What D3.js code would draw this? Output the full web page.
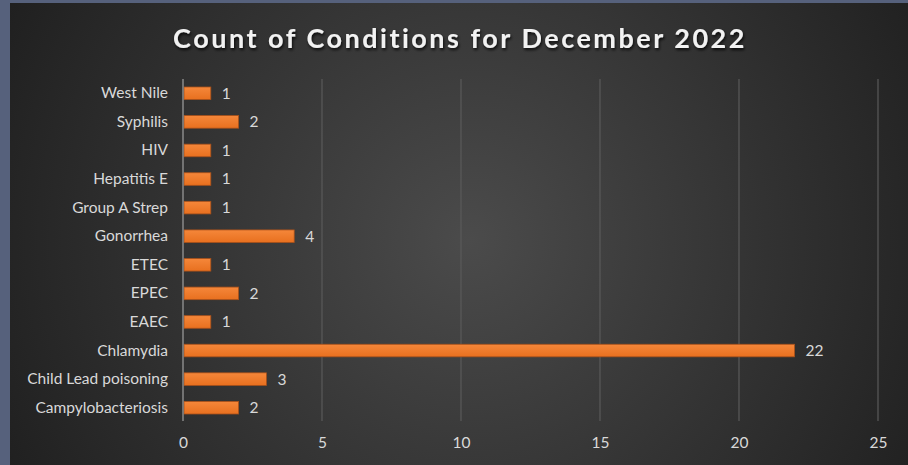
<!DOCTYPE html>
<html><head><meta charset="utf-8">
<script src="https://cdn.jsdelivr.net/npm/d3@7"></script>
<style>
html,body{margin:0;padding:0;background:#56617c;}
svg{display:block;}
</style>
</head><body>
<svg id="chart" width="908" height="465"></svg>
<script>
const categories = ["West Nile","Syphilis","HIV","Hepatitis E","Group A Strep","Gonorrhea","ETEC","EPEC","EAEC","Chlamydia","Child Lead poisoning","Campylobacteriosis"];
const counts = [1,2,1,1,1,4,1,2,1,22,3,2];
const xTicks = [0,5,10,15,20,25];
const title = "Count of Conditions for December 2022";

const W = 908, H = 465;
const svg = d3.select("#chart");
const defs = svg.append("defs");
const rg = defs.append("radialGradient").attr("id","bg")
  .attr("gradientUnits","userSpaceOnUse")
  .attr("cx",470).attr("cy",240).attr("r",540);
rg.append("stop").attr("offset","0").attr("stop-color","#4b4b4b");
rg.append("stop").attr("offset","0.55").attr("stop-color","#323232");
rg.append("stop").attr("offset","1").attr("stop-color","#1e1e1e");

const barGrad = defs.append("linearGradient").attr("id","barg").attr("x1",0).attr("y1",0).attr("x2",0).attr("y2",1);
barGrad.append("stop").attr("offset","0").attr("stop-color","#f5873a");
barGrad.append("stop").attr("offset","1").attr("stop-color","#e8701f");

const sh = defs.append("filter").attr("id","tshadow").attr("x","-10%").attr("y","-30%").attr("width","120%").attr("height","160%");
sh.append("feDropShadow").attr("dx",1).attr("dy",2).attr("stdDeviation",1.5).attr("flood-color","#000").attr("flood-opacity",0.8);

svg.append("rect").attr("x",0).attr("y",0).attr("width",W).attr("height",H).attr("fill","#56617c");
svg.append("rect").attr("x",10).attr("y",3).attr("width",W-10).attr("height",H-3).attr("fill","url(#bg)");

const x = d3.scaleLinear().domain([0,25]).range([183,878]);
const y = d3.scaleBand().domain(categories).range([79,422]).paddingInner(0.56).paddingOuter(0.28);

svg.append("g").selectAll("line").data(xTicks.filter(d=>d>0)).join("line")
  .attr("x1",d=>x(d)).attr("x2",d=>x(d)).attr("y1",79).attr("y2",421)
  .attr("stroke","#5a5a5a").attr("stroke-width",1.2);

svg.append("g").selectAll("rect").data(categories).join("rect")
  .attr("x",x(0)+1).attr("y",d=>y(d))
  .attr("width",(d,i)=>x(counts[i])-x(0)-1).attr("height",y.bandwidth())
  .attr("fill","url(#barg)").attr("stroke","#a9501a").attr("stroke-width",0.8);

svg.append("line").attr("x1",x(0)).attr("x2",x(0)).attr("y1",79).attr("y2",421)
  .attr("stroke","#8a8a8a").attr("stroke-width",1.5);

const font = "Lato, 'Open Sans', sans-serif";
const fs = "15.5px";

const yAxis = d3.axisLeft(y).tickSize(0).tickPadding(15);
const gy = svg.append("g").attr("transform",`translate(${x(0)},0)`).call(yAxis);
gy.select(".domain").remove();
gy.selectAll("text").attr("fill","#d9d9d9").style("font-family",font).style("font-size",fs);

const xAxis = d3.axisBottom(x).tickValues(xTicks).tickSize(0).tickPadding(16);
const gx = svg.append("g").attr("transform",`translate(0,421)`).call(xAxis);
gx.select(".domain").remove();
gx.selectAll("text").attr("fill","#d9d9d9").style("font-family",font).style("font-size",fs);

svg.append("g").selectAll("text").data(categories).join("text")
  .attr("x",(d,i)=>x(counts[i])+11).attr("y",d=>y(d)+y.bandwidth()/2)
  .attr("dy","0.35em").attr("fill","#d9d9d9")
  .style("font-family",font).style("font-size",fs)
  .text((d,i)=>counts[i]);

svg.append("text").attr("x",460).attr("y",48).attr("text-anchor","middle")
  .attr("fill","#f2f2f2").attr("filter","url(#tshadow)")
  .style("font-family",font).style("font-size","27px").style("font-weight","bold")
  .style("letter-spacing","2.5px")
  .text(title);
</script>
</body></html>
